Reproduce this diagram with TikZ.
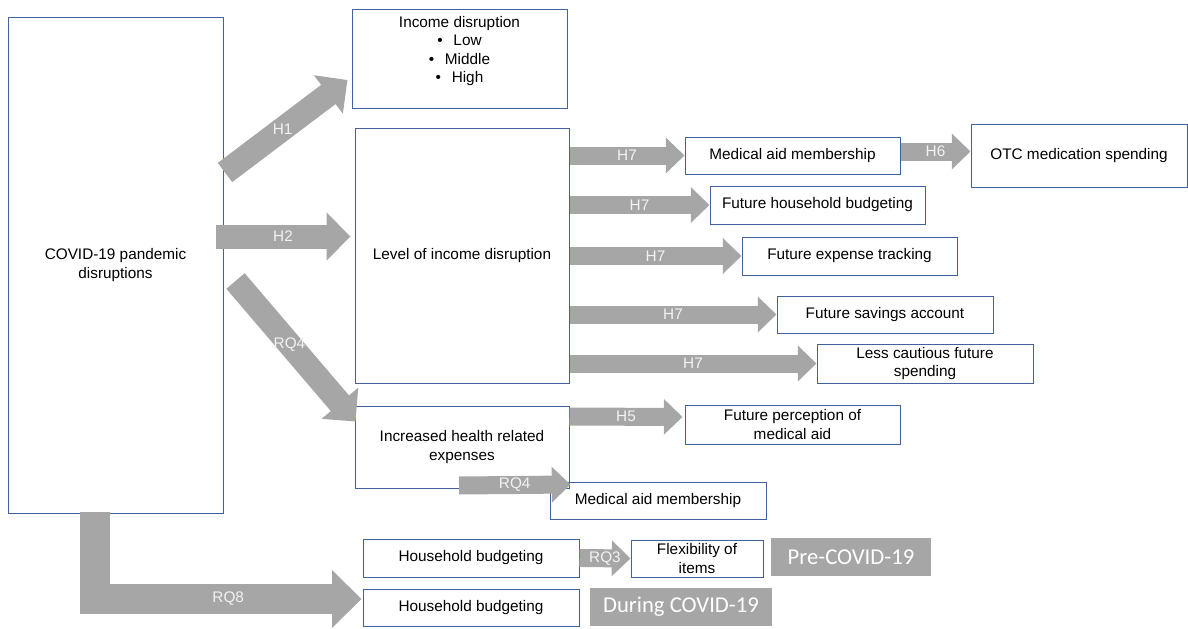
\documentclass[tikz,border=0pt]{standalone}
\usepackage{fontspec}
\setmainfont{Liberation Sans}
\newfontfamily\tagfont{Carlito}
\usetikzlibrary{arrows.meta}

\definecolor{boxblue}{HTML}{41629F}
\definecolor{arrowgrey}{HTML}{A6A6A6}
\definecolor{labelwhite}{HTML}{F2F2F2}

\tikzset{
  box/.style={draw=boxblue, line width=0.75pt, align=center, inner sep=1pt, font=\fontsize{11.5}{13.8}\selectfont},
  tag/.style={fill=arrowgrey, text=white, inner sep=0pt, font=\tagfont\fontsize{17}{20}\selectfont},
  bigarrow/.style={draw=arrowgrey, line width=18pt, -{Triangle[length=18pt,width=35pt]}},
  midarrow/.style={draw=arrowgrey, line width=13.5pt, -{Triangle[length=14pt,width=26pt]}},
  widearrow/.style={draw=arrowgrey, line width=22.5pt, -{Triangle[length=22pt,width=42pt]}},
  lbl/.style={text=labelwhite, inner sep=0pt, font=\fontsize{11.5}{13.8}\selectfont},
}

\begin{document}
\begin{tikzpicture}[x=0.75pt, y=-0.75pt]
    \useasboundingbox (0,0) rectangle (1188,628);

    % boxes
    \node[box, minimum width=161.25pt, minimum height=372pt] (covid) at (115.5,265) {COVID-19 pandemic\\disruptions};
    \node[box, minimum width=161.25pt, minimum height=74.25pt] (income) at (459.5,58.5) {Income disruption\\\textbullet\hspace{0.7em}Low\\\textbullet\hspace{0.7em}Middle\\\textbullet\hspace{0.7em}High\\\mbox{}};
    \node[box, minimum width=160.5pt, minimum height=191.25pt] (level) at (462,255.5) {Level of income disruption};
    \node[box, minimum width=160.5pt, minimum height=61.5pt] (health) at (462,447) {Increased health related\\expenses};
    \node[box, minimum width=161.25pt, minimum height=27.75pt] (medaid) at (792.5,155.5) {Medical aid membership};
    \node[box, minimum width=162pt, minimum height=47.25pt] (otc) at (1079,155.5) {OTC medication spending};
    \node[box, minimum width=161.25pt, minimum height=28.5pt] (budget) at (817.5,205) {Future household budgeting};
    \node[box, minimum width=161.25pt, minimum height=28.5pt] (tracking) at (849.5,256) {Future expense tracking};
    \node[box, minimum width=162pt, minimum height=27.75pt] (savings) at (885,314.5) {Future savings account};
    \node[box, minimum width=162pt, minimum height=29.25pt] (spending) at (925,363.5) {Less cautious future\\spending};
    \node[box, minimum width=161.25pt, minimum height=29.25pt] (perception) at (792.5,424.5) {Future perception of\\medical aid};
    \node[box, minimum width=162pt, minimum height=27.75pt] (medaidb) at (658,500.5) {Medical aid membership};
    \node[box, minimum width=162pt, minimum height=28.5pt] (hhpre) at (471,558) {Household budgeting};
    \node[box, minimum width=99pt, minimum height=27.75pt] (flex) at (697,558.5) {Flexibility of\\items};
    \node[tag, minimum width=120pt, minimum height=28.5pt] (pre) at (851,557) {Pre-COVID-19};
    \node[box, minimum width=162pt, minimum height=27.75pt] (hhduring) at (471,607.5) {Household budgeting};
    \node[tag, minimum width=136.5pt, minimum height=28.5pt] (during) at (681,607) {During COVID-19};

    % block arrows
    \draw[bigarrow] ([shift={(1.5,-92.5)}]covid.east) -- ([shift={(-4,21.5)}]income.west) node[lbl, pos=0.47] (h1) {H1};
    \draw[bigarrow] ([shift={(-8,-28.5)}]covid.east) -- ([shift={(-4,-19)}]level.west) node[lbl, midway] (h2) {H2};
    \draw[bigarrow] ([shift={(12,16)}]covid.east) -- ([shift={(1,16)}]health.north west) node[lbl, pos=0.45] (rq4a) {RQ4};

    \draw[midarrow] (level.east |- medaid) -- (medaid.west) node[lbl, midway] (h7a) {H7};
    \draw[midarrow] (level.east |- budget) -- (budget.west) node[lbl, midway] (h7b) {H7};
    \draw[midarrow] (level.east |- tracking) -- (tracking.west) node[lbl, midway] (h7c) {H7};
    \draw[midarrow] (level.east |- savings) -- (savings.west) node[lbl, midway] (h7d) {H7};
    \draw[midarrow] (level.east |- spending) -- (spending.west) node[lbl, midway] (h7e) {H7};
    \draw[midarrow] ([shift={(0,-4)}]medaid.east) -- ([shift={(0,-4)}]otc.west) node[lbl, midway] (h6) {H6};

    \draw[midarrow] ([shift={(0,11)}]health.north east) -- ([shift={(-2,-7.5)}]perception.west) node[lbl, midway] (h5) {H5};
    \draw[midarrow] ([shift={(-3,-3)}]health.south) -- ([shift={(21,3)}]medaidb.north west) node[lbl, midway] (rq4b) {RQ4};
    \draw[midarrow] (hhpre.east) -- (flex.west) node[lbl, midway] (rq3) {RQ3};
    \draw[widearrow] ([shift={(-20.5,-2)}]covid.south) |- ([shift={(-1,-8.5)}]hhduring.west) node[lbl, pos=0.75] (rq8) {RQ8};
\end{tikzpicture}
\end{document}
